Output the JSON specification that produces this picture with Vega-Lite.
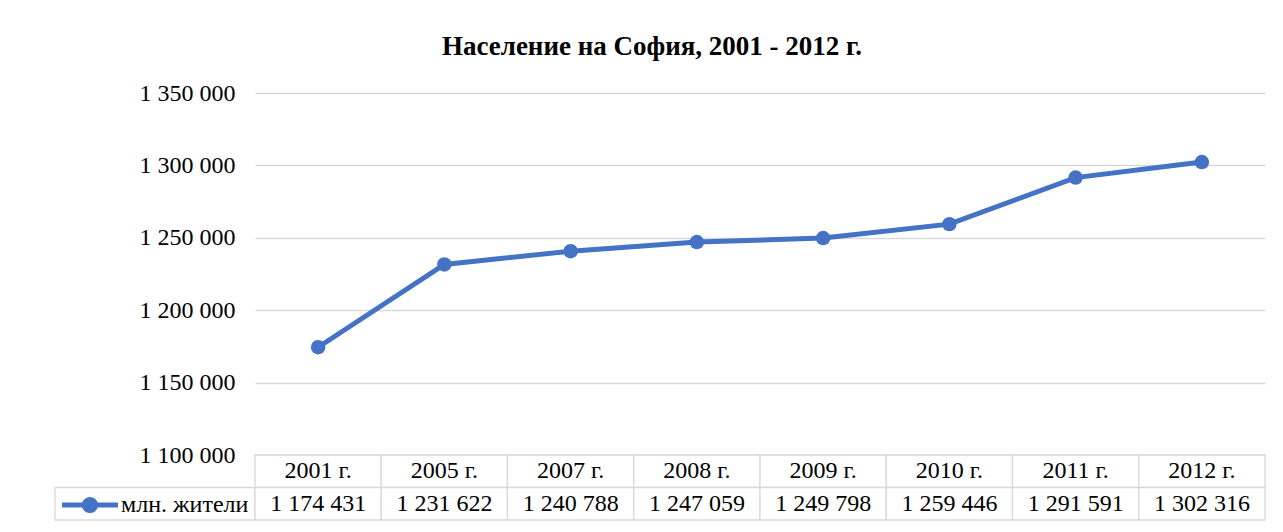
{
  "$schema": "https://vega.github.io/schema/vega-lite/v6.json",
  "padding": {"left": 54, "top": 33, "right": 10, "bottom": 5},
  "background": "white",
  "title": {"text": "Население на София, 2001 - 2012 г.", "font": "Liberation Serif", "fontSize": 27, "fontWeight": "bold", "color": "#000000", "anchor": "middle", "offset": 20, "dx": -8},
  "datasets": {
    "pop": [
      {"year": "2001 г.", "value": 1174431, "series": "млн. жители"},
      {"year": "2005 г.", "value": 1231622, "series": "млн. жители"},
      {"year": "2007 г.", "value": 1240788, "series": "млн. жители"},
      {"year": "2008 г.", "value": 1247059, "series": "млн. жители"},
      {"year": "2009 г.", "value": 1249798, "series": "млн. жители"},
      {"year": "2010 г.", "value": 1259446, "series": "млн. жители"},
      {"year": "2011 г.", "value": 1291591, "series": "млн. жители"},
      {"year": "2012 г.", "value": 1302316, "series": "млн. жители"}
    ],
    "legendcell": [{"row": "v", "series": "млн. жители"}]
  },
  "columns": 2,
  "spacing": 0,
  "bounds": "flush",
  "align": "each",
  "concat": [
    {
      "width": 200, "height": 362,
      "data": {"values": []},
      "mark": "text",
      "encoding": {}
    },
    {
      "width": 1010, "height": 362,
      "data": {"name": "pop"},
      "encoding": {
        "x": {"field": "year", "type": "ordinal", "sort": null, "scale": {"type": "point", "padding": 0.5}, "axis": null},
        "y": {"field": "value", "type": "quantitative", "scale": {"domain": [1100000, 1350000], "zero": false, "nice": false},
              "axis": {"title": null, "values": [1100000, 1150000, 1200000, 1250000, 1300000, 1350000], "format": ",d", "domain": false, "ticks": false, "labelPadding": 20, "labelFont": "Liberation Serif", "labelFontSize": 24, "labelColor": "#000000", "gridColor": "#d9d9d9", "gridWidth": 1.3}},
        "color": {"field": "series", "type": "nominal", "scale": {"range": ["#4472C4"]},
                  "legend": {"title": null, "orient": "none", "legendX": 7, "legendY": 384, "padding": 0, "symbolType": "M-1,-0.09H1V0.09H-1Z M0.29,0A0.29,0.29 0 1,1 -0.29,0A0.29,0.29 0 1,1 0.29,0Z", "symbolSize": 3136, "symbolStrokeWidth": 0, "symbolFillColor": "#4472C4", "symbolOpacity": 1, "labelFont": "Liberation Serif", "labelFontSize": 24, "labelColor": "#000000", "labelOffset": 3, "labelLimit": 300}}
      },
      "layer": [
        {"mark": {"type": "line", "strokeWidth": 5, "strokeCap": "round"}},
        {"mark": {"type": "point", "filled": true, "size": 210, "opacity": 1}, "encoding": {"color": {"value": "#4472C4"}}}
      ]
    },
    {
      "width": 200, "height": 65,
      "data": {"name": "legendcell"},
      "mark": {"type": "rect", "fill": "white", "stroke": "#d9d9d9", "strokeWidth": 1.3},
      "encoding": {
        "y": {"field": "row", "type": "nominal", "scale": {"domain": ["h", "v"], "paddingInner": 0, "paddingOuter": 0}, "axis": null}
      }
    },
    {
      "width": 1010, "height": 65,
      "data": {"name": "pop"},
      "encoding": {
        "x": {"field": "year", "type": "ordinal", "sort": null, "scale": {"type": "band", "paddingInner": 0, "paddingOuter": 0}, "axis": null}
      },
      "layer": [
        {"mark": {"type": "rect", "fill": "white", "stroke": "#d9d9d9", "strokeWidth": 1.3},
         "encoding": {"y": {"datum": "h", "type": "nominal", "scale": {"domain": ["h", "v"], "paddingInner": 0, "paddingOuter": 0}, "axis": null}}},
        {"mark": {"type": "rect", "fill": "white", "stroke": "#d9d9d9", "strokeWidth": 1.3},
         "encoding": {"y": {"datum": "v", "type": "nominal"}}},
        {"mark": {"type": "text", "font": "Liberation Serif", "fontSize": 24, "color": "#000000", "baseline": "middle"},
         "encoding": {"y": {"datum": "h", "type": "nominal"}, "text": {"field": "year"}}},
        {"mark": {"type": "text", "font": "Liberation Serif", "fontSize": 24, "color": "#000000", "baseline": "middle"},
         "encoding": {"y": {"datum": "v", "type": "nominal"}, "text": {"field": "value", "type": "quantitative", "format": ",d"}}}
      ]
    }
  ],
  "config": {
    "view": {"stroke": null},
    "locale": {"number": {"decimal": ",", "thousands": " ", "grouping": [3], "currency": ["", ""]}}
  }
}
